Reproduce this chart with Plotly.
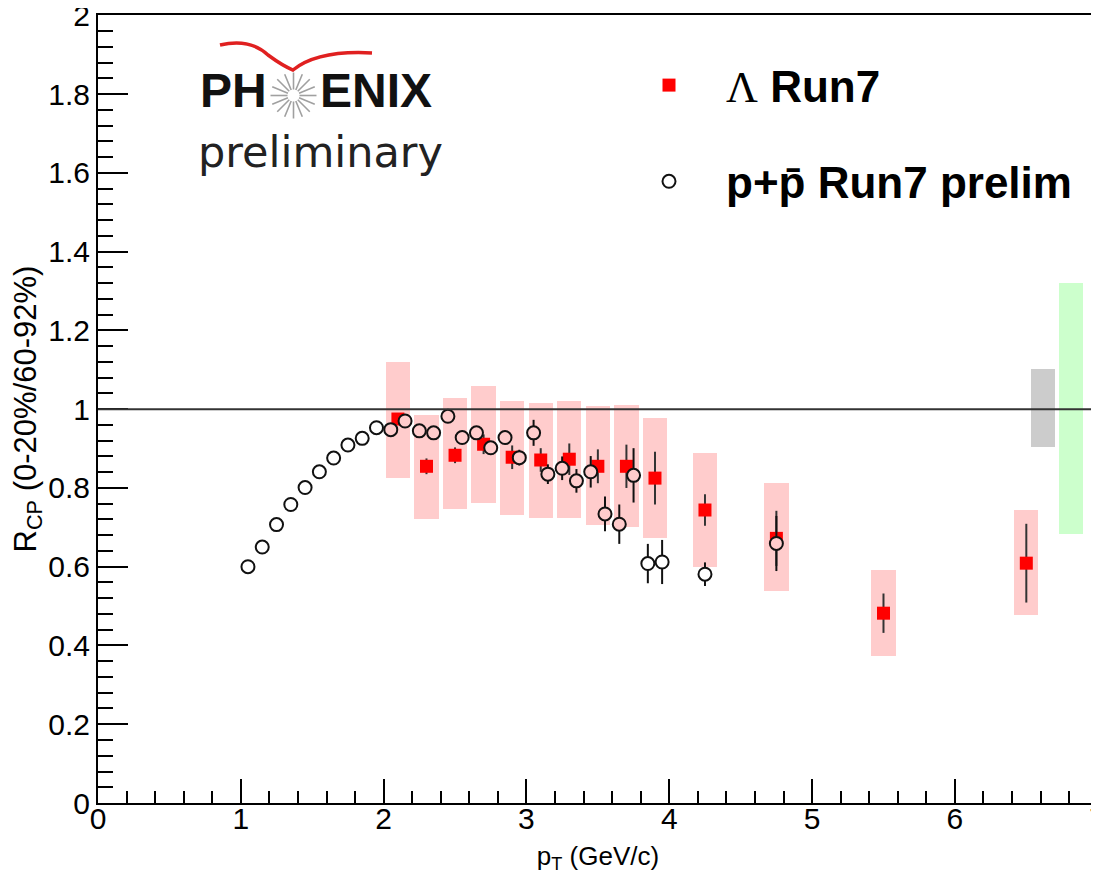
import numpy as np
import plotly.graph_objects as go

# ---------------- data ----------------
lam_x = [2.1, 2.3, 2.5, 2.7, 2.9, 3.1, 3.3, 3.5, 3.7, 3.9, 4.25, 4.75, 5.5, 6.5]
lam_y = [0.975, 0.855, 0.883, 0.911, 0.878, 0.871, 0.873, 0.855, 0.855, 0.825, 0.744, 0.672, 0.482, 0.609]
lam_stat = [0.015, 0.02, 0.02, 0.025, 0.03, 0.03, 0.04, 0.043, 0.055, 0.067, 0.04, 0.07, 0.05, 0.10]
lam_sys_lo = [0.825, 0.721, 0.746, 0.761, 0.731, 0.723, 0.723, 0.706, 0.701, 0.673, 0.599, 0.538, 0.373, 0.477]
lam_sys_hi = [1.119, 0.985, 1.028, 1.058, 1.020, 1.015, 1.020, 1.008, 1.010, 0.977, 0.888, 0.812, 0.591, 0.744]

pp_x = [1.05, 1.15, 1.25, 1.35, 1.45, 1.55, 1.65, 1.75, 1.85, 1.95,
        2.05, 2.15, 2.25, 2.35, 2.45, 2.55, 2.65, 2.75, 2.85, 2.95,
        3.05, 3.15, 3.25, 3.35, 3.45, 3.55, 3.65, 3.75, 3.85, 3.95, 4.25, 4.75]
pp_y = [0.600, 0.650, 0.707, 0.758, 0.801, 0.841, 0.876, 0.909, 0.926, 0.953,
        0.948, 0.970, 0.945, 0.940, 0.982, 0.928, 0.940, 0.902, 0.928, 0.877,
        0.940, 0.835, 0.850, 0.818, 0.841, 0.734, 0.708, 0.832, 0.608, 0.612, 0.581, 0.659]
pp_err = [0.005, 0.005, 0.005, 0.005, 0.005, 0.005, 0.005, 0.005, 0.005, 0.005,
          0.006, 0.006, 0.007, 0.007, 0.008, 0.008, 0.009, 0.010, 0.015, 0.020,
          0.033, 0.025, 0.030, 0.030, 0.040, 0.044, 0.050, 0.069, 0.050, 0.056, 0.030, 0.070]

# normalisation uncertainty boxes (grey and green)
norm_x = [6.615, 6.815]
norm_lo = [0.904, 0.683]
norm_hi = [1.102, 1.320]
norm_colors = ["#cccccc", "#ccffcc"]

# ---------------- geometry / style ----------------
# the page body has an 8px margin, so the figure is 8px smaller than the window
W, H = 1091, 866
ML, MR, MT, MB = 90, 1, 7, 71
PW, PH = W - ML - MR, H - MT - MB
PAGE_L, PAGE_B = 98, 803  # plot-area left / bottom in window pixels
BOX_W = 0.17
FONT = "Liberation Sans, Arial, Helvetica, sans-serif"


def fx(p):
    return (p - PAGE_L) / PW


def fy(p):
    return (PAGE_B - p) / PH


fig = go.Figure()

# systematic boxes
lam_lo = np.array(lam_sys_lo)
lam_hi = np.array(lam_sys_hi)
fig.add_trace(go.Bar(x=lam_x, y=lam_hi - lam_lo, base=lam_lo, width=BOX_W,
                     marker=dict(color="#ffcccc", line=dict(width=0)),
                     showlegend=False, hoverinfo="skip"))
fig.add_trace(go.Bar(x=norm_x, y=np.array(norm_hi) - np.array(norm_lo), base=norm_lo,
                     width=BOX_W, marker=dict(color=norm_colors, line=dict(width=0)),
                     showlegend=False, hoverinfo="skip"))

# Lambda points
fig.add_trace(go.Scatter(
    x=lam_x, y=lam_y, mode="markers",
    name="<span style='font-family:Liberation Serif;font-weight:normal'>Λ</span><b> Run7</b>",
    legendgroup="a",
    marker=dict(symbol="square", size=13, color="#ff0000", line=dict(width=0)),
    error_y=dict(type="data", array=lam_stat, color="#333333", thickness=2, width=0),
))

# p+pbar points: fill matches whatever background is behind each circle
pxa, pya = np.array(pp_x), np.array(pp_y)
fill = []
for xv, yv in zip(pxa, pya):
    inside = any(abs(xv - bx) <= BOX_W / 2 and lo <= yv <= hi
                 for bx, lo, hi in zip(lam_x, lam_sys_lo, lam_sys_hi))
    fill.append("#ffcccc" if inside else "#ffffff")

fig.add_trace(go.Scatter(
    x=pp_x, y=pp_y, mode="markers",
    name="<b>p+p\u0304 Run7 prelim</b>",
    legendgroup="b",
    marker=dict(symbol="circle", size=13, color=fill, line=dict(width=2, color="#111111")),
    error_y=dict(type="data", array=pp_err, color="#111111", thickness=2, width=0),
))

shapes = []
# reference line at 1
shapes.append(dict(type="line", xref="paper", yref="y", x0=0, x1=1, y0=1, y1=1,
                   line=dict(color="#333333", width=2), layer="above"))

# ---- PHENIX logo ----
cx, cy = 293.5, 95.5
for k in range(16):
    a = k * np.pi / 8
    r0, r1 = 6, 23
    shapes.append(dict(type="line", xref="paper", yref="paper",
                       x0=fx(cx + r0 * np.cos(a)), y0=fy(cy + r0 * np.sin(a)),
                       x1=fx(cx + r1 * np.cos(a)), y1=fy(cy + r1 * np.sin(a)),
                       line=dict(color="#a0a0a0", width=1.6)))
# red swoosh
path = "M {:.5f},{:.5f} Q {:.5f},{:.5f} {:.5f},{:.5f} Q {:.5f},{:.5f} {:.5f},{:.5f} Q {:.5f},{:.5f} {:.5f},{:.5f}".format(
    fx(220), fy(45), fx(250), fy(38), fx(268), fy(55),
    fx(283), fy(66), fx(293), fy(70),
    fx(318), fy(50), fx(372), fy(53))
shapes.append(dict(type="path", xref="paper", yref="paper", path=path,
                   line=dict(color="#e02020", width=3.5)))

annotations = [
    dict(text="<b>PH</b>", x=fx(269), y=fy(90), xref="paper", yref="paper",
         xanchor="right", yanchor="middle", showarrow=False,
         font=dict(family=FONT, size=48, color="#111111")),
    dict(text="<b>ENIX</b>", x=fx(318), y=fy(90), xref="paper", yref="paper",
         xanchor="left", yanchor="middle", showarrow=False,
         font=dict(family=FONT, size=48, color="#111111")),
    dict(text="preliminary", x=fx(196), y=fy(152), xref="paper", yref="paper",
         xanchor="left", yanchor="middle", showarrow=False,
         font=dict(family="DejaVu Sans, Verdana, sans-serif", size=43, color="#222222")),
]

axis_common = dict(showline=True, linecolor="black", linewidth=2, mirror=True,
                   showgrid=False, zeroline=False, ticks="inside", tickcolor="black",
                   tickwidth=1.5, ticklabeloverflow="allow",
                   tickfont=dict(family=FONT, size=30, color="black"))

fig.update_layout(
    width=W, height=H,
    margin=dict(l=ML, r=MR, t=MT, b=MB, autoexpand=False),
    paper_bgcolor="white", plot_bgcolor="white",
    barmode="overlay", bargap=0,
    xaxis=dict(range=[0, 7.002], tick0=0, dtick=1, ticklen=24, ticklabelstandoff=-12,
               minor=dict(dtick=0.2, ticks="inside", ticklen=12, tickwidth=1.5,
                          tickcolor="black", showgrid=False),
               title=dict(text="p<sub>T</sub> (GeV/c)", standoff=16,
                          font=dict(family=FONT, size=26, color="black")),
               **axis_common),
    yaxis=dict(range=[0, 2.001], tick0=0, dtick=0.2, ticklen=30,
               minor=dict(dtick=0.04, ticks="inside", ticklen=15, tickwidth=1.5,
                          tickcolor="black", showgrid=False),
               title=dict(text="R<sub>CP</sub> (0-20%/60-92%)", standoff=17,
                          font=dict(family=FONT, size=31, color="black")),
               **axis_common),
    legend=dict(x=fx(612), y=fy(50), xanchor="left", yanchor="top",
                font=dict(family=FONT, size=44, color="black"),
                itemwidth=104, tracegroupgap=36, bgcolor="rgba(0,0,0,0)",
                itemsizing="trace"),
    shapes=shapes,
    annotations=annotations,
    showlegend=True,
)

fig.write_html("out.html")
